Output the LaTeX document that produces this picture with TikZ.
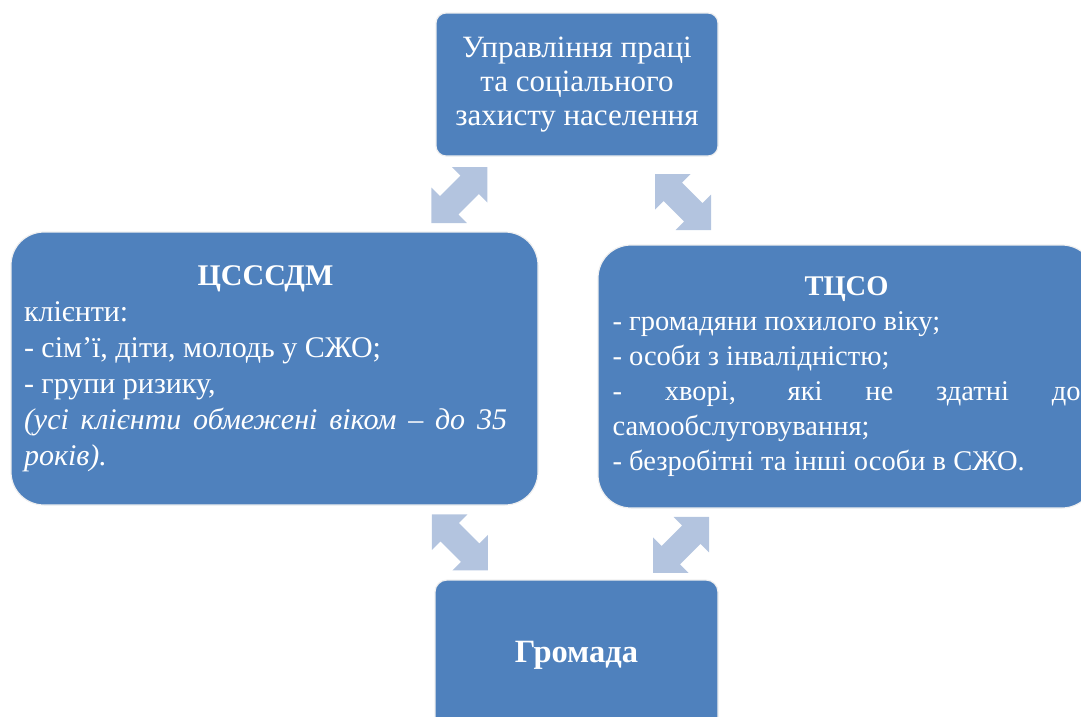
\documentclass[tikz,border=0pt]{standalone}
\usepackage{fontspec}
\setmainfont{Liberation Serif}
\usetikzlibrary{calc}
\setlength{\parindent}{0pt}
\definecolor{boxblue}{HTML}{4F81BD}
\definecolor{arrowblue}{HTML}{B3C4DF}
\tikzset{
  box/.style={fill=boxblue, draw=gray!12, line width=1.2pt, text=white, inner sep=0pt},
  dblarrow/.pic={\fill[arrowblue] (-39.5,0) -- (-14.5,25) -- (-14.5,13) -- (14.5,13) -- (14.5,25) -- (39.5,0)
     -- (14.5,-25) -- (14.5,-13) -- (-14.5,-13) -- (-14.5,-25) -- cycle;}
}

\begin{document}
\begin{tikzpicture}[x=1pt,y=-1pt]
\useasboundingbox (0,0) rectangle (1081,716);
\clip (0,0) rectangle (1081,716);
% boxes
\node[box, rounded corners=10pt, minimum width=282pt, minimum height=143pt, align=center,
  font=\fontsize{31}{34}\selectfont] (upravl) at (577,84.5)
  {Управління праці\\та соціального\\захисту населення};
\node[box, rounded corners=33pt, minimum width=527pt, minimum height=273pt, text width=501pt, align=justify,
  font=\fontsize{30}{36}\selectfont] (cssdm) at (274.5,368.5)
  {\rightskip=18pt
   {\leftskip=0pt plus 1fil\rightskip=18pt plus 1fil\parfillskip=0pt\bfseries ЦСССДМ\par}
   клієнти:\par
   - сім’ї, діти, молодь у СЖО;\par
   - групи ризику,\par
   \textit{(усі клієнти обмежені віком – до 35\linebreak років).}\par};
\node[box, rounded corners=33pt, minimum width=497pt, minimum height=263pt, text width=468pt, align=justify,
  font=\fontsize{28.5}{35}\selectfont] (tcso) at (846.5,376.5)
  {{\centering\bfseries ТЦСО\par}
   - громадяни похилого віку;\par
   - особи з інвалідністю;\par
   - хворі, які не здатні до\linebreak самообслуговування;\par
   - безробітні та інші особи в СЖО.};
\node[box, rounded corners=12pt, minimum width=283pt, minimum height=150pt,
  font=\fontsize{32.5}{38}\selectfont\bfseries] (hromada) at (576.5,655) {Громада};
% arrows
\pic[rotate=45] at ($(upravl.south west)+(24,38.5)$) {dblarrow};
\pic[rotate=-45] at ($(upravl.south east)+(-35.5,45.5)$) {dblarrow};
\pic[rotate=-45] at ($(hromada.north west)+(25.5,-37)$) {dblarrow};
\pic[rotate=45] at ($(hromada.north east)+(-37.5,-34.5)$) {dblarrow};
\end{tikzpicture}
\end{document}
